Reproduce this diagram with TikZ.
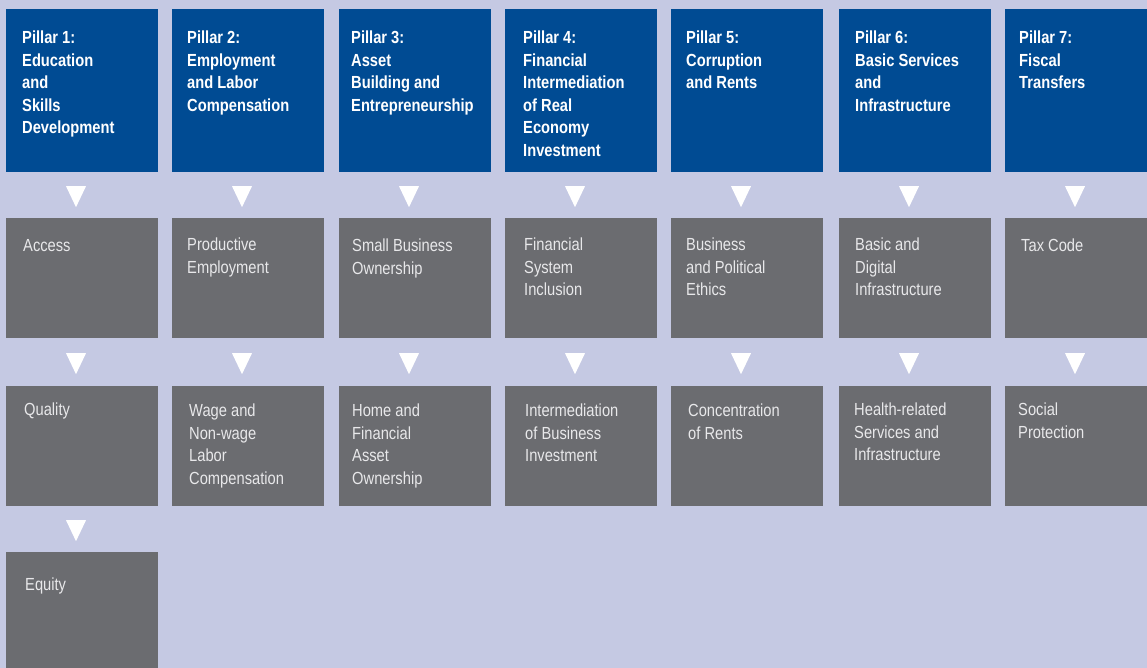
\documentclass[tikz,border=0pt]{standalone}
\usepackage{fontspec}
\setmainfont{Liberation Sans}[FakeStretch=0.84]
\usetikzlibrary{positioning,calc}

\definecolor{pillarblue}{HTML}{004B93}
\definecolor{topicgrey}{HTML}{6B6C70}
\definecolor{backlilac}{HTML}{C5C9E3}
\definecolor{topictext}{HTML}{E8E8EA}

\newcommand{\downmark}[2]{%
  \fill[white] ($(#1.south west)!0.5!(#2.north west)+(60,-9)$) -- ++(20,0) -- ++(-10,21) -- cycle;}

\begin{document}
\begin{tikzpicture}[x=1pt,y=-1pt,
    pillar/.style={fill=pillarblue, anchor=north west, inner sep=0pt, minimum width=152pt, minimum height=163pt},
    topic/.style={fill=topicgrey, anchor=north west, inner sep=0pt, minimum width=152pt, minimum height=120pt},
    pillartext/.style={anchor=north west, inner sep=0pt, align=left, text=white,
        font=\fontsize{17.5}{22.5}\selectfont\bfseries},
    topictext/.style={anchor=north west, inner sep=0pt, align=left, text=topictext,
        font=\fontsize{17.5}{22.5}\selectfont}]

    \def\colw{152}

    \fill[backlilac] (0,0) rectangle (1147,668);
    \useasboundingbox (0,0) rectangle (1147,668);

    % pillars
    \node[pillar] (p1) at (6,9) {};
    \node[pillar] (p2) at (172,9) {};
    \node[pillar] (p3) at (339,9) {};
    \node[pillar] (p4) at (505,9) {};
    \node[pillar] (p5) at (671,9) {};
    \node[pillar] (p6) at (839,9) {};
    \node[pillar, minimum width=142pt] (p7) at (1005,9) {};

    \node[pillartext] (p1t) at ($(p1.north west)+(16,22)$) {Pillar 1:\\Education\\and\\Skills\\Development};
    \node[pillartext] (p2t) at ($(p2.north west)+(15,22)$) {Pillar 2:\\Employment\\and Labor\\Compensation};
    \node[pillartext] (p3t) at ($(p3.north west)+(12,22)$) {Pillar 3:\\Asset\\Building and\\Entrepreneurship};
    \node[pillartext] (p4t) at ($(p4.north west)+(18,22)$) {Pillar 4:\\Financial\\Intermediation\\of Real\\Economy\\Investment};
    \node[pillartext] (p5t) at ($(p5.north west)+(15,22)$) {Pillar 5:\\Corruption\\and Rents};
    \node[pillartext] (p6t) at ($(p6.north west)+(16,22)$) {Pillar 6:\\Basic Services\\and\\Infrastructure};
    \node[pillartext] (p7t) at ($(p7.north west)+(14,22)$) {Pillar 7:\\Fiscal\\Transfers};

    % first row of topics
    \node[topic] (a1) at (6,218) {};
    \node[topic] (a2) at (172,218) {};
    \node[topic] (a3) at (339,218) {};
    \node[topic] (a4) at (505,218) {};
    \node[topic] (a5) at (671,218) {};
    \node[topic] (a6) at (839,218) {};
    \node[topic, minimum width=142pt] (a7) at (1005,218) {};

    \node[topictext] (a1t) at ($(a1.north west)+(17,21)$) {Access};
    \node[topictext] (a2t) at ($(a2.north west)+(15,20)$) {Productive\\Employment};
    \node[topictext] (a3t) at ($(a3.north west)+(13,21)$) {Small Business\\Ownership};
    \node[topictext] (a4t) at ($(a4.north west)+(19,20)$) {Financial\\System\\Inclusion};
    \node[topictext] (a5t) at ($(a5.north west)+(15,20)$) {Business\\and Political\\Ethics};
    \node[topictext] (a6t) at ($(a6.north west)+(16,20)$) {Basic and\\Digital\\Infrastructure};
    \node[topictext] (a7t) at ($(a7.north west)+(16,21)$) {Tax Code};

    % second row of topics
    \node[topic] (b1) at (6,386) {};
    \node[topic] (b2) at (172,386) {};
    \node[topic] (b3) at (339,386) {};
    \node[topic] (b4) at (505,386) {};
    \node[topic] (b5) at (671,386) {};
    \node[topic] (b6) at (839,386) {};
    \node[topic, minimum width=142pt] (b7) at (1005,386) {};

    \node[topictext] (b1t) at ($(b1.north west)+(18,17)$) {Quality};
    \node[topictext] (b2t) at ($(b2.north west)+(17,18)$) {Wage and\\Non-wage\\Labor\\Compensation};
    \node[topictext] (b3t) at ($(b3.north west)+(13,18)$) {Home and\\Financial\\Asset\\Ownership};
    \node[topictext] (b4t) at ($(b4.north west)+(20,18)$) {Intermediation\\of Business\\Investment};
    \node[topictext] (b5t) at ($(b5.north west)+(17,18)$) {Concentration\\of Rents};
    \node[topictext] (b6t) at ($(b6.north west)+(15,17)$) {Health-related\\Services and\\Infrastructure};
    \node[topictext] (b7t) at ($(b7.north west)+(13,17)$) {Social\\Protection};

    % third row
    \node[topic, minimum height=116pt] (c1) at (6,552) {};
    \node[topictext] (c1t) at ($(c1.north west)+(19,26)$) {Equity};

    % markers between the boxes
    \downmark{p1}{a1} \downmark{p2}{a2} \downmark{p3}{a3} \downmark{p4}{a4}
    \downmark{p5}{a5} \downmark{p6}{a6} \downmark{p7}{a7}
    \downmark{a1}{b1} \downmark{a2}{b2} \downmark{a3}{b3} \downmark{a4}{b4}
    \downmark{a5}{b5} \downmark{a6}{b6} \downmark{a7}{b7}
    \downmark{b1}{c1}

\end{tikzpicture}
\end{document}
